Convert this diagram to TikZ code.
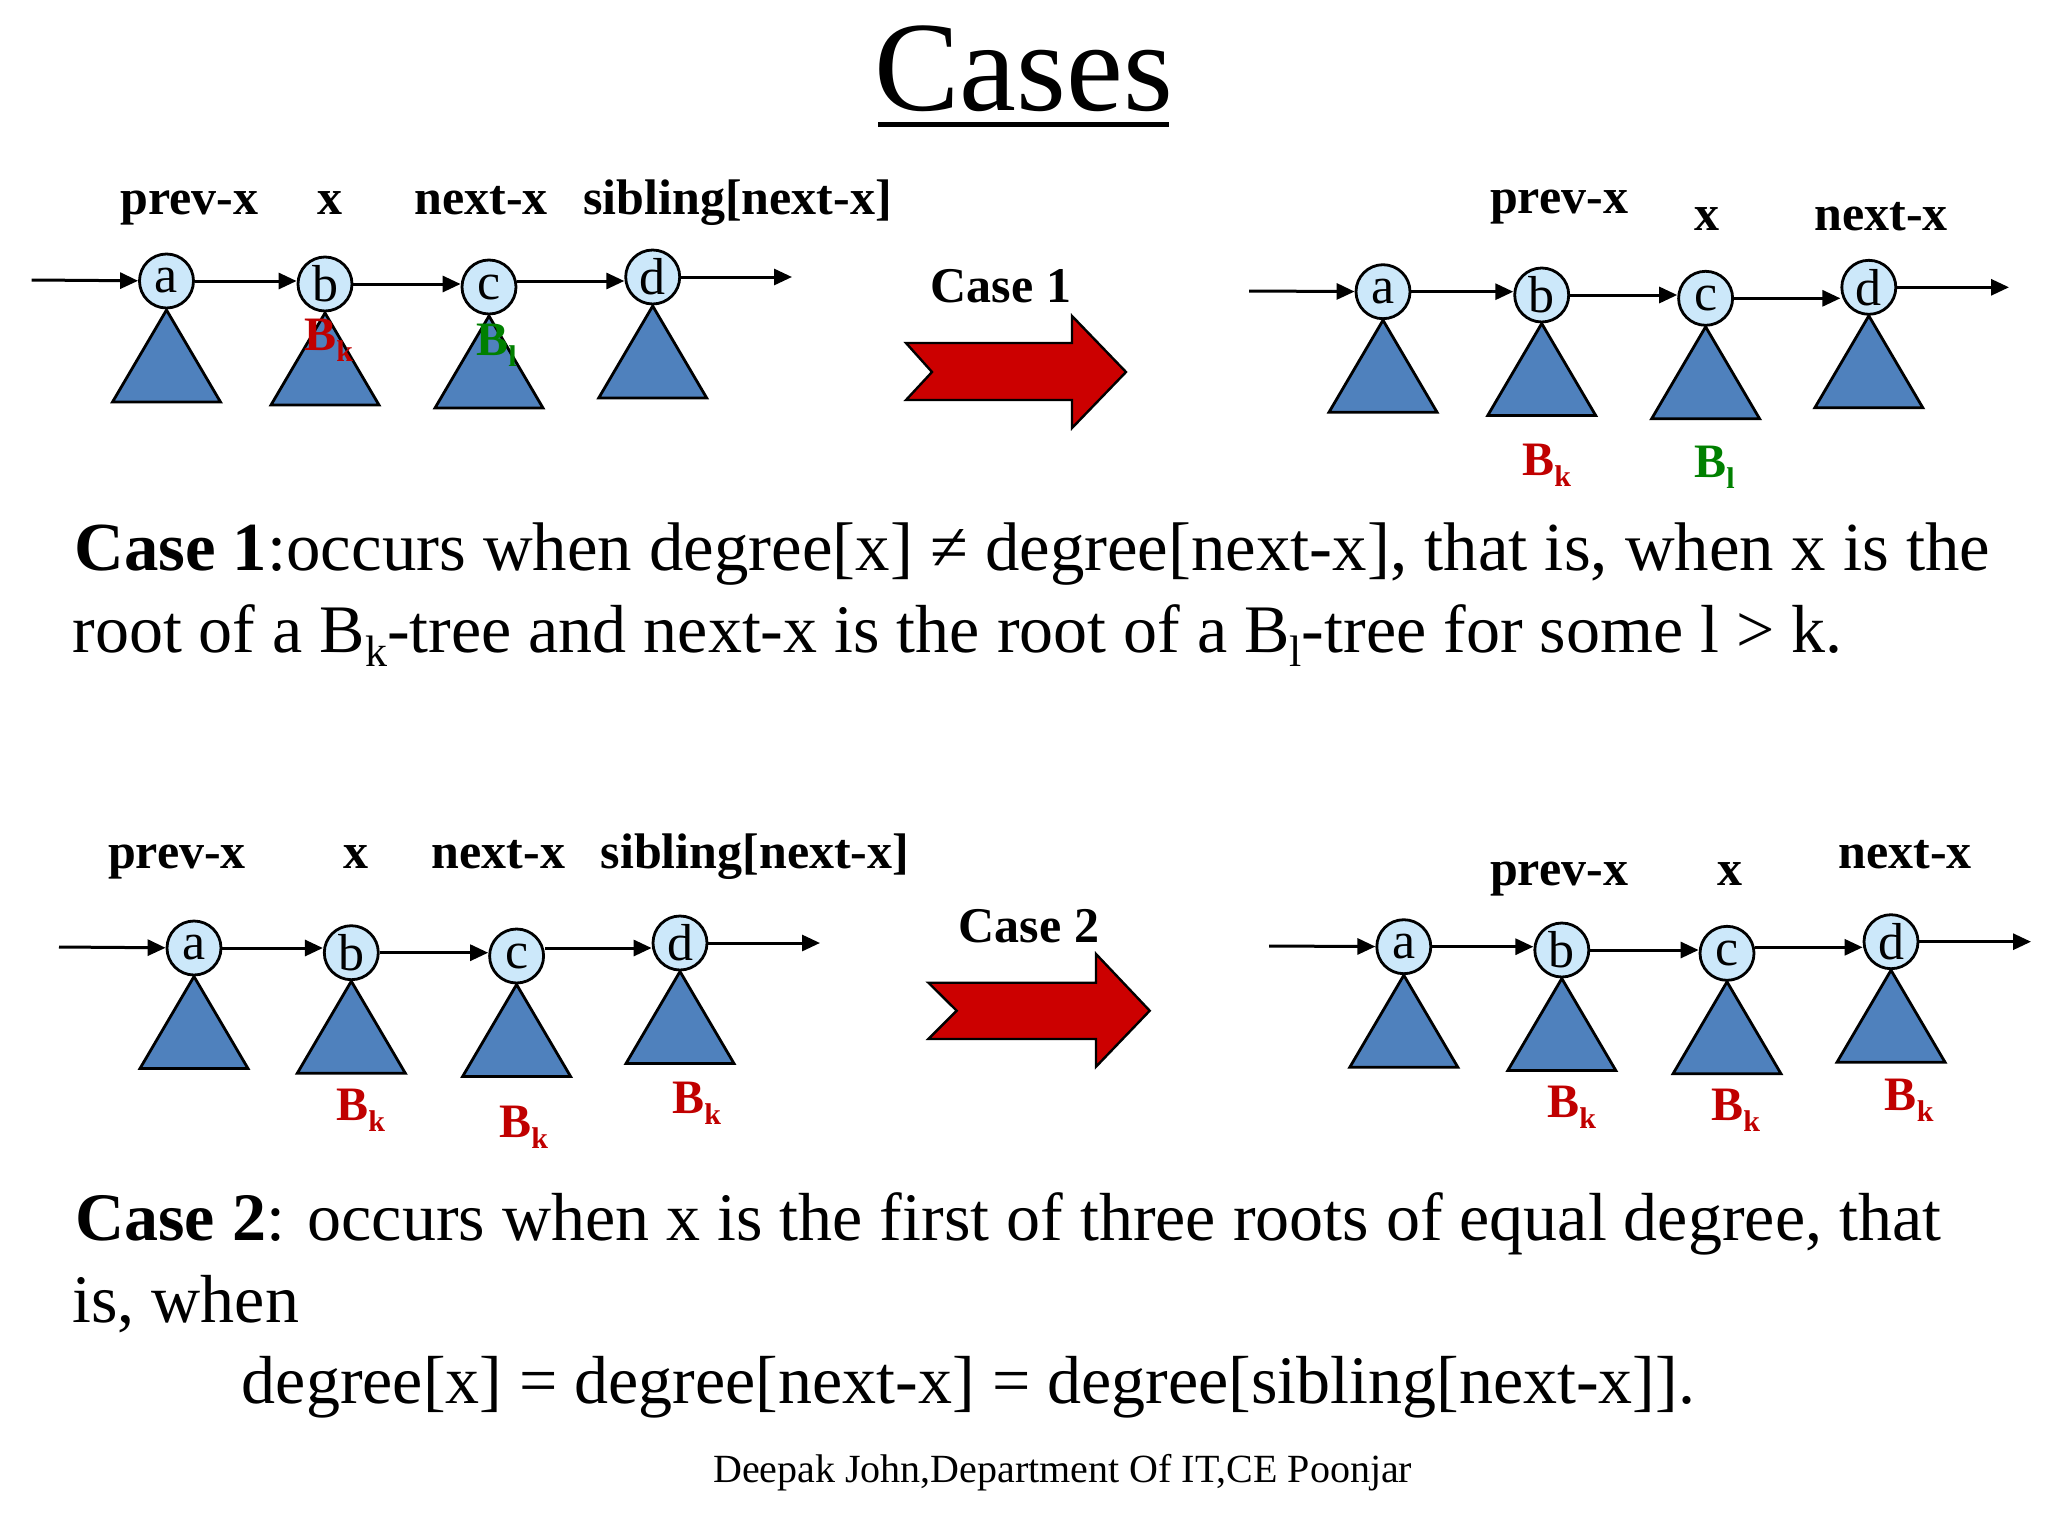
\documentclass[tikz,border=0pt]{standalone}
\usepackage{fontspec}
\setmainfont{Liberation Serif}
\usetikzlibrary{arrows.meta}
\definecolor{circfill}{RGB}{204,232,250}
\definecolor{trifill}{RGB}{79,129,189}
\definecolor{bigred}{RGB}{204,0,0}
\definecolor{labred}{RGB}{192,0,0}
\definecolor{labgreen}{RGB}{0,128,0}
\newcommand\dsub[1]{\raisebox{-5.5pt}{\fontsize{15}{18}\selectfont #1}}
\newcommand\tsub[1]{\raisebox{-7pt}{\fontsize{22}{26}\selectfont #1}}
\begin{document}
\begin{tikzpicture}[x=0.5pt,y=-0.5pt,
  circ/.style={circle,draw,fill=circfill,line width=1.4pt,minimum size=27pt,inner sep=0pt,font=\fontsize{26}{30}\selectfont},
  conn/.style={line width=1.5pt,-{Triangle[length=9pt,width=8pt]}},
  tri/.style={draw,fill=trifill,line width=1.4pt,line join=miter},
  lbl/.style={anchor=base,inner sep=0pt,font=\bfseries\fontsize{25}{30}\selectfont},
  blab/.style={anchor=base west,inner sep=0pt,font=\bfseries\fontsize{24}{28}\selectfont},
  body/.style={anchor=base west,inner sep=0pt,font=\fontsize{34}{40}\selectfont},
  bigarrow/.style={draw,fill=bigred,line width=1.2pt,line join=miter},
  pics/bt/.style={code={\draw[tri] (0,0) -- (-54,92) -- (54,92) -- cycle;}}
]
\useasboundingbox (0,0) rectangle (2048,1536);

% title
\node[anchor=base,inner sep=0pt,font=\fontsize{64}{70}\selectfont] (title) at (1023.5,111) {Cases};
\draw[line width=2.5pt] (878,124) -- (1169,124);

% ---------- top left chain ----------
\node[lbl] (l1p) at (189.4,214) {prev-x};
\node[lbl] (l1x) at (330,214) {x};
\node[lbl] (l1n) at (481,214) {next-x};
\node[lbl] (l1s) at (737.6,214) {sibling[next-x]};
\coordinate (A1) at (166.5,281);
\coordinate (B1) at (325,284);
\coordinate (C1) at (489,287);
\coordinate (D1) at (652.7,277);
\path (A1) ++(0,29) pic {bt};
\path (B1) ++(0,29) pic {bt};
\path (C1) ++(0,29) pic {bt};
\path (D1) ++(0,29) pic {bt};
\node[circ] (a1) at (A1) {a};
\node[circ] (b1) at (B1) {b};
\node[circ] (c1) at (C1) {c};
\node[circ] (d1) at (D1) {d};
\coordinate (I1) at (31.6,280);
\coordinate (O1) at (792,280);
\draw[conn] (I1) -- (a1);
\draw[conn] (a1) -- (b1.west |- a1);
\draw[conn] (b1) -- (c1.west |- b1);
\draw[conn] (c1.west -| c1.east) ++(0,-6) coordinate (c1r) (c1r) -- (d1.west |- c1r);
\draw[conn] (d1) -- (d1 -| O1);
\node[blab,text=labred] (bk1) at (304,350) {B\dsub{k}};
\node[blab,text=labgreen] (bl1) at (476,355) {B\dsub{l}};

% ---------- case 1 arrow ----------
\node[lbl] (case1) at (1001,302) {Case 1};
\draw[bigarrow] (906,343) -- (1072,343) -- (1072,316) -- (1126,372) -- (1072,428) -- (1072,400) -- (906,400) -- (932,372) -- cycle;

% ---------- top right chain ----------
\node[lbl] (r1p) at (1559,213) {prev-x};
\node[lbl] (r1x) at (1707,230) {x};
\node[lbl] (r1n) at (1881,230) {next-x};
\coordinate (A2) at (1383,291.7);
\coordinate (B2) at (1541.7,295);
\coordinate (C2) at (1705.6,298.3);
\coordinate (D2) at (1868.8,287.3);
\path (A2) ++(0,28.5) pic {bt};
\path (B2) ++(0,28.5) pic {bt};
\path (C2) ++(0,28.5) pic {bt};
\path (D2) ++(0,28.5) pic {bt};
\node[circ] (a2) at (A2) {a};
\node[circ] (b2) at (B2) {b};
\node[circ] (c2) at (C2) {c};
\node[circ] (d2) at (D2) {d};
\coordinate (I2) at (1249,291);
\coordinate (O2) at (2009,291);
\draw[conn] (I2) -- (a2);
\draw[conn] (a2) -- (b2.west |- a2);
\draw[conn] (b2) -- (c2.west |- b2);
\draw[conn] (c2) -- (d2.west |- c2);
\draw[conn] (d2) -- (d2 -| O2);
\node[blab,text=labred] (bk2) at (1522,475) {B\dsub{k}};
\node[blab,text=labgreen] (bl2) at (1694,477) {B\dsub{l}};

% ---------- case 1 text ----------
\node[body,font=\fontsize{34.4}{40}\selectfont] (t1a) at (74,570) {\textbf{Case 1}:occurs when degree[x] ≠ degree[next-x], that is, when x is the};
\node[body] (t1b) at (72,652) {root of a B\tsub{k}-tree and next-x is the root of a B\tsub{l}-tree for some l > k.};

% ---------- bottom left chain ----------
\node[lbl] (l3p) at (177,868) {prev-x};
\node[lbl] (l3x) at (355.5,868) {x};
\node[lbl] (l3n) at (498.5,868) {next-x};
\node[lbl] (l3s) at (755,868) {sibling[next-x]};
\coordinate (A3) at (194,948);
\coordinate (B3) at (351.3,952.7);
\coordinate (C3) at (516.6,956);
\coordinate (D3) at (680,943);
\path (A3) ++(0,28.5) pic {bt};
\path (B3) ++(0,28.5) pic {bt};
\path (C3) ++(0,28.5) pic {bt};
\path (D3) ++(0,28.5) pic {bt};
\node[circ] (a3) at (A3) {a};
\node[circ] (b3) at (B3) {b};
\node[circ] (c3) at (C3) {c};
\node[circ] (d3) at (D3) {d};
\coordinate (I3) at (59,947);
\coordinate (O3) at (820,947);
\draw[conn] (I3) -- (a3);
\draw[conn] (a3) -- (b3.west |- a3);
\draw[conn] (b3) -- (c3.west |- b3);
\draw[conn] (c3.west -| c3.east) ++(0,-8) coordinate (c3r) (c3r) -- (d3.west |- c3r);
\draw[conn] (d3) -- (d3 -| O3);
\node[blab,text=labred] (bk3b) at (336,1120) {B\dsub{k}};
\node[blab,text=labred] (bk3c) at (499,1137) {B\dsub{k}};
\node[blab,text=labred] (bk3d) at (672,1113) {B\dsub{k}};

% ---------- case 2 arrow ----------
\node[lbl] (case2) at (1029,942) {Case 2};
\draw[bigarrow] (928.4,982.7) -- (1096,982.7) -- (1096,954) -- (1149.7,1010.7) -- (1096,1066.7) -- (1096,1039) -- (928.4,1039) -- (956.7,1010.7) -- cycle;

% ---------- bottom right chain ----------
\node[lbl] (r3p) at (1559,885) {prev-x};
\node[lbl] (r3x) at (1729.5,885) {x};
\node[lbl] (r3n) at (1905,868) {next-x};
\coordinate (A4) at (1403.8,946.7);
\coordinate (B4) at (1561.8,950);
\coordinate (C4) at (1727,953.3);
\coordinate (D4) at (1891,941.7);
\path (A4) ++(0,28.5) pic {bt};
\path (B4) ++(0,28.5) pic {bt};
\path (C4) ++(0,28.5) pic {bt};
\path (D4) ++(0,28.5) pic {bt};
\node[circ] (a4) at (A4) {a};
\node[circ] (b4) at (B4) {b};
\node[circ] (c4) at (C4) {c};
\node[circ] (d4) at (D4) {d};
\coordinate (I4) at (1269,946);
\coordinate (O4) at (2031,946);
\draw[conn] (I4) -- (a4);
\draw[conn] (a4) -- (b4.west |- a4);
\draw[conn] (b4) -- (c4.west |- b4);
\draw[conn] (c4.west -| c4.east) ++(0,-6) coordinate (c4r) (c4r) -- (d4.west |- c4r);
\draw[conn] (d4) -- (d4 -| O4);
\node[blab,text=labred] (bk4b) at (1547,1117) {B\dsub{k}};
\node[blab,text=labred] (bk4c) at (1711,1120) {B\dsub{k}};
\node[blab,text=labred] (bk4d) at (1884.5,1110) {B\dsub{k}};

% ---------- case 2 text ----------
\node[body] (t2a) at (75,1240) {\textbf{Case 2}: occurs when x is the first of three roots of equal degree, that};
\node[body] (t2b) at (72,1322) {is, when};
\node[body] (t2c) at (241.5,1403) {degree[x] = degree[next-x] = degree[sibling[next-x]].};

% footer
\node[anchor=base,inner sep=0pt,font=\fontsize{20}{24}\selectfont] (foot) at (1062.7,1482) {Deepak John,Department Of IT,CE Poonjar};
\end{tikzpicture}
\end{document}
